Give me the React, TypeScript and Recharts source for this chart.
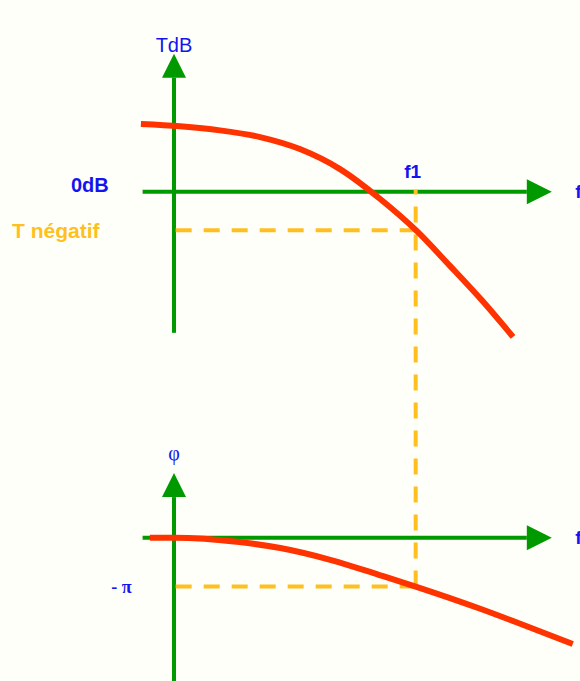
import { ComposedChart, Line, XAxis, YAxis, ReferenceDot } from 'recharts';

// Frequency is in arbitrary units along the f axis; gain in dB, phase in radians.
const F_ORIGIN = 7.2;
const F1 = 17.2;
const T_NEG = -4;
const PHASE_MINUS_PI = -Math.PI;

const GAIN_DOMAIN: [number, number] = [-51, 20];
const PHASE_DOMAIN: [number, number] = [-9.2, 34.5];

// red gain curve T(f) in dB
const gainF = [5.83, 7.45, 9.1, 10.76, 12.41, 14.07, 15.72, 17.21, 18.62, 19.94, 21.23];
const gainDb = [7.07, 6.83, 6.41, 5.71, 4.46, 2.37, -0.72, -4.0, -7.72, -11.31, -15.12];

// red phase curve φ(f) in rad
const phaseF = [6.2, 7.2, 9.9, 11.6, 13.7, 15.7, 17.2, 19.9, 21.5, 23.7];
const phaseRad = [0, 0, -0.28, -0.67, -1.44, -2.4, -3.14, -4.58, -5.51, -6.83];

// axis extents (arrow base at the last point)
const gainAxisV = { f: [F_ORIGIN, F_ORIGIN], t: [-14.7, 11.9] };
const gainAxisH = { f: [5.9, 21.8], t: [0, 0] };
const phaseAxisV = { f: [F_ORIGIN, F_ORIGIN], p: [-9.2, 2.6] };
const phaseAxisH = { f: [5.9, 21.8], p: [0, 0] };

const GREEN = '#009900';
const RED = '#FF3300';
const ORANGE = '#FFBF1F';
const BLUE = '#1414F0';
const SANS = '"Liberation Sans", Arial, sans-serif';
const SERIF = '"Liberation Serif", "Times New Roman", serif';

// a phase value expressed on the gain axis, so the f1 drop line can span both plots
const phaseOnGain = (p: number) =>
  GAIN_DOMAIN[0] +
  ((p - PHASE_DOMAIN[0]) / (PHASE_DOMAIN[1] - PHASE_DOMAIN[0])) * (GAIN_DOMAIN[1] - GAIN_DOMAIN[0]);

const zip = (xs: number[], ys: number[], key: string) => xs.map((f, i) => ({ f, [key]: ys[i] }));

const gainData = zip(gainF, gainDb, 't');
const phaseData = zip(phaseF, phaseRad, 'p');

const arrowDot = (dir: 'up' | 'right', last: number) => (props: any) => {
  const { cx, cy, index } = props;
  if (index !== last) return <g key={`a-${index}`} />;
  const pts =
    dir === 'up'
      ? `${cx - 12},${cy} ${cx + 12},${cy} ${cx},${cy - 24}`
      : `${cx},${cy - 12.5} ${cx},${cy + 12.5} ${cx + 25},${cy}`;
  return <polygon key={`a-${index}`} points={pts} fill={GREEN} />;
};

const tag =
  (text: string, opts: { color?: string; size?: number; bold?: boolean; anchor?: string; dx?: number; dy?: number | string; family?: string }) =>
  (props: any) => (
    <text
      x={props.cx}
      y={props.cy}
      dx={opts.dx ?? 0}
      dy={opts.dy ?? 0}
      fill={opts.color ?? BLUE}
      fontSize={opts.size ?? 19}
      fontWeight={opts.bold ? 'bold' : 'normal'}
      fontFamily={opts.family ?? SANS}
      textAnchor={opts.anchor ?? 'start'}
    >
      {text}
    </text>
  );

export default function App() {
  return (
    <div style={{ position: 'absolute', left: 0, top: 0, width: 580, height: 681, background: '#FFFFF9' }}>
      <ComposedChart width={580} height={681} margin={{ top: 0, right: 0, bottom: 0, left: 0 }}>
        <XAxis dataKey="f" type="number" domain={[0, 24]} hide />
        <YAxis yAxisId="gain" type="number" domain={GAIN_DOMAIN} hide />
        <YAxis yAxisId="phase" type="number" domain={PHASE_DOMAIN} hide />

        {/* axes */}
        <Line yAxisId="gain" data={zip(gainAxisV.f, gainAxisV.t, 't')} dataKey="t" stroke={GREEN} strokeWidth={4}
          dot={arrowDot('up', 1)} activeDot={false} isAnimationActive={false} />
        <Line yAxisId="gain" data={zip(gainAxisH.f, gainAxisH.t, 't')} dataKey="t" stroke={GREEN} strokeWidth={4}
          dot={arrowDot('right', 1)} activeDot={false} isAnimationActive={false} />
        <Line yAxisId="phase" data={zip(phaseAxisV.f, phaseAxisV.p, 'p')} dataKey="p" stroke={GREEN} strokeWidth={4}
          dot={arrowDot('up', 1)} activeDot={false} isAnimationActive={false} />
        <Line yAxisId="phase" data={zip(phaseAxisH.f, phaseAxisH.p, 'p')} dataKey="p" stroke={GREEN} strokeWidth={4}
          dot={arrowDot('right', 1)} activeDot={false} isAnimationActive={false} />

        {/* dashed construction lines at f1 */}
        <Line yAxisId="gain" data={[{ f: F1, t: T_NEG }, { f: F_ORIGIN, t: T_NEG }]} dataKey="t" stroke={ORANGE}
          strokeWidth={4} strokeDasharray="16 12" dot={false} activeDot={false} isAnimationActive={false} />
        <Line yAxisId="phase" data={[{ f: F1, p: PHASE_MINUS_PI }, { f: F_ORIGIN, p: PHASE_MINUS_PI }]} dataKey="p"
          stroke={ORANGE} strokeWidth={4} strokeDasharray="16 12" dot={false} activeDot={false} isAnimationActive={false} />
        <Line yAxisId="gain" data={[{ f: F1, t: phaseOnGain(PHASE_MINUS_PI) }, { f: F1, t: 0.2 }]} dataKey="t"
          stroke={ORANGE} strokeWidth={4} strokeDasharray="16 12" dot={false} activeDot={false} isAnimationActive={false} />

        {/* curves */}
        <Line yAxisId="gain" data={gainData} dataKey="t" type="monotone" stroke={RED} strokeWidth={6}
          dot={false} activeDot={false} isAnimationActive={false} />
        <Line yAxisId="phase" data={phaseData} dataKey="p" type="monotone" stroke={RED} strokeWidth={6}
          dot={false} activeDot={false} isAnimationActive={false} />

        {/* labels */}
        <ReferenceDot yAxisId="gain" x={F_ORIGIN} y={14.6} shape={tag('TdB', { anchor: 'middle', size: 20 })} />
        <ReferenceDot yAxisId="gain" x={4.5} y={0} shape={tag('0dB', { bold: true, anchor: 'end', size: 20 })} />
        <ReferenceDot yAxisId="gain" x={0.5} y={T_NEG} shape={tag('T négatif', { bold: true, color: ORANGE, size: 21, dy: '0.35em' })} />
        <ReferenceDot yAxisId="gain" x={F1} y={0} shape={tag('f1', { bold: true, anchor: 'middle', dx: -3, dy: -14 })} />
        <ReferenceDot yAxisId="gain" x={23.8} y={0} shape={tag('f', { bold: true, dy: '0.35em' })} />
        <ReferenceDot yAxisId="phase" x={F_ORIGIN} y={5.0} shape={tag('φ', { anchor: 'middle', size: 20, family: SERIF })} />
        <ReferenceDot yAxisId="phase" x={5.45} y={PHASE_MINUS_PI} shape={tag('- π', { anchor: 'end', size: 18, bold: true, family: SERIF, dy: '0.35em' })} />
        <ReferenceDot yAxisId="phase" x={23.8} y={0} shape={tag('f', { bold: true, dy: '0.35em' })} />
      </ComposedChart>
    </div>
  );
}
